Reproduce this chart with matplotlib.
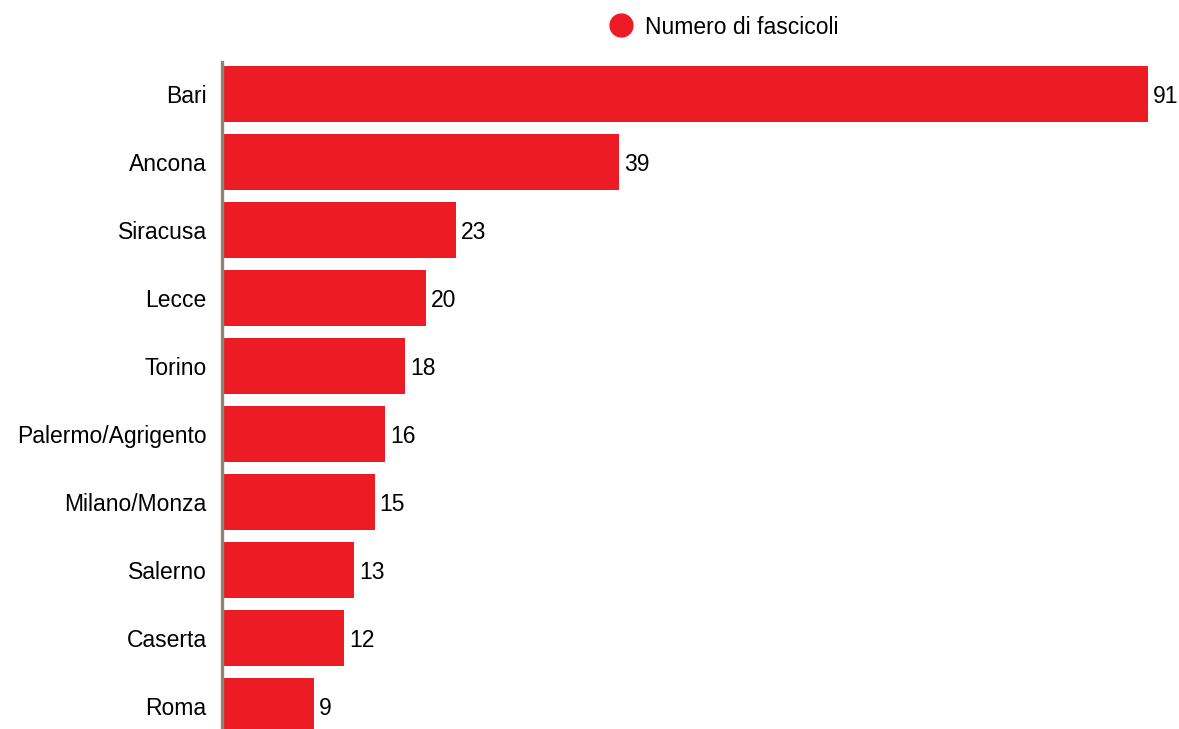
import matplotlib.pyplot as plt
from matplotlib.lines import Line2D

cities = ["Bari", "Ancona", "Siracusa", "Lecce", "Torino", "Palermo/Agrigento",
          "Milano/Monza", "Salerno", "Caserta", "Roma"]
fascicoli = [91, 39, 23, 20, 18, 16, 15, 13, 12, 9]
series_name = "Numero di fascicoli"

red = "#ED1C24"
plt.rcParams['font.family'] = ['Liberation Sans', 'DejaVu Sans']
fs = 16.5

W, H = 1179, 729
fig = plt.figure(figsize=(W / 100, H / 100), dpi=100)
ax = fig.add_axes([222 / W, 0, (W - 222) / W, (729 - 62) / H])

y = list(range(len(cities)))
bars = ax.barh(y, fascicoli, height=0.82, color=red)
ax.set_xlim(0, 94.0)
ax.set_ylim(9.34, -0.47)

for rect, v in zip(bars, fascicoli):
    ax.annotate(str(v), (rect.get_width(), rect.get_y() + rect.get_height() / 2),
                xytext=(3.5, 0), textcoords="offset points",
                va="center_baseline", ha="left", fontsize=fs)

ax.set_yticks(y)
ax.set_yticklabels(cities, fontsize=fs)
ax.tick_params(axis="y", length=0, pad=11)
ax.set_xticks([])
for side in ["top", "right", "bottom"]:
    ax.spines[side].set_visible(False)
ax.spines["left"].set_color("#8c8680")
ax.spines["left"].set_linewidth(2.4)

handle = Line2D([], [], marker="o", linestyle="none", markersize=16.5,
                markerfacecolor=red, markeredgecolor=red)
fig.legend([handle], [series_name], loc="center", bbox_to_anchor=(724 / W, 1 - 27 / H),
           frameon=False, fontsize=fs, handletextpad=0.55, handlelength=1.0)

fig.savefig("out.png", dpi=100)
